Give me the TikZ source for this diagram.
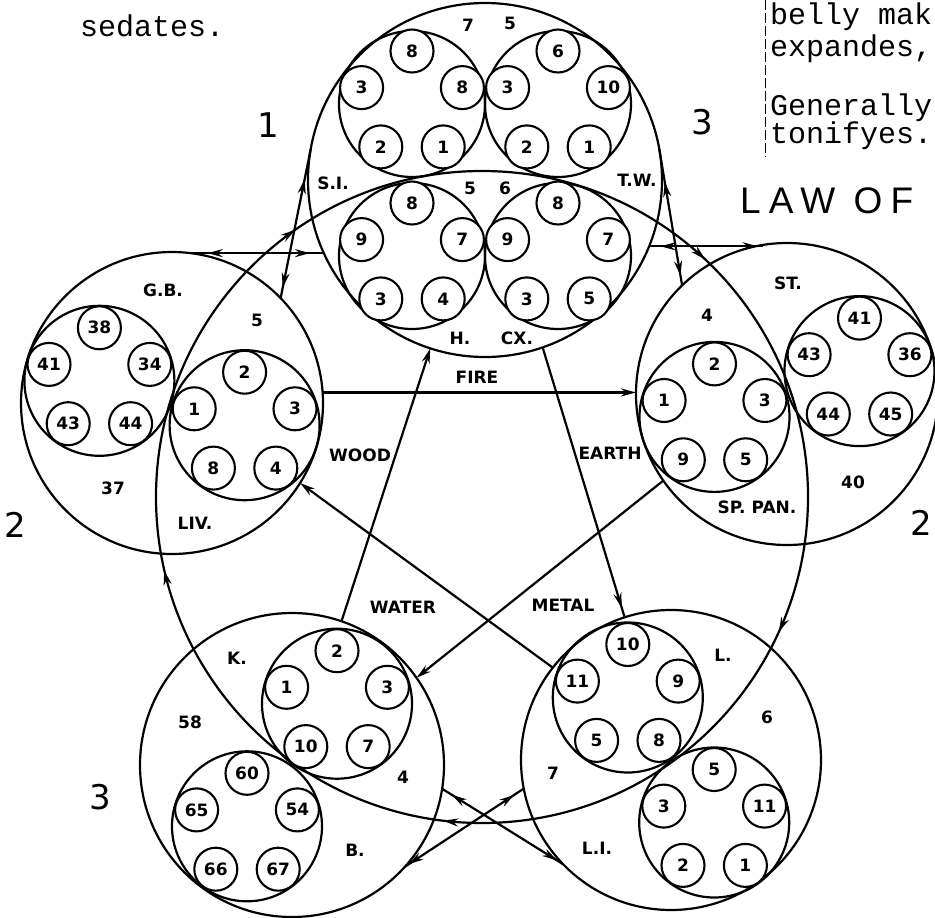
\documentclass[tikz,border=0pt]{standalone}
\usepackage{fontspec}
\setmainfont{DejaVu Sans}
\newfontfamily\typew{Liberation Mono}
\newfontfamily\lawf[LetterSpace=22]{Liberation Sans}
\usetikzlibrary{arrows.meta,decorations.markings,calc}
\tikzset{
  ln/.style={line width=2.2pt},
  bigc/.style={circle, draw, line width=2.2pt, inner sep=0pt, outer sep=0pt},
  org/.style={circle, draw, line width=2.2pt, inner sep=0pt, outer sep=0pt},
  sm/.style={circle, draw, fill=white, line width=2.1pt, inner sep=0pt, outer sep=0pt,
     minimum size=43pt, font=\bfseries\fontsize{17}{17}\selectfont},
  lab/.style={font=\bfseries\fontsize{17}{17}\selectfont, inner sep=1pt},
  numl/.style={font=\fontsize{34}{34}\selectfont, inner sep=0pt},
  twr/.style={font=\typew\fontsize{30}{30}\selectfont, anchor=base west, inner sep=0pt},
  tipend/.style={-{Stealth[length=15pt,width=8pt]}},
  fwd/.style={postaction={decorate,decoration={markings,
     mark=at position #1 with {\arrow{Stealth[length=15pt,width=8pt]}}}}},
  bwd/.style={postaction={decorate,decoration={markings,
     mark=at position #1 with {\arrowreversed{Stealth[length=15pt,width=8pt]}}}}},
  gcarrows/.style={postaction={decorate,decoration={markings,
     mark=at position 0.068 with {\arrow{Stealth[length=15pt,width=8pt]}},
     mark=at position 0.269 with {\arrow{Stealth[length=15pt,width=8pt]}},
     mark=at position 0.464 with {\arrow{Stealth[length=15pt,width=8pt]}},
     mark=at position 0.653 with {\arrow{Stealth[length=15pt,width=8pt]}},
     mark=at position 0.870 with {\arrow{Stealth[length=15pt,width=8pt]}}}}}
}
% five small circles in a pentagon: prefix, x, y, top, upper-left, upper-right, lower-left, lower-right
\newcommand{\pentad}[8]{%
  \node[sm] (#1t) at (#2,#3-53) {#4};
  \node[sm] (#1l) at (#2-50.4,#3-16.4) {#5};
  \node[sm] (#1r) at (#2+50.4,#3-16.4) {#6};
  \node[sm] (#1p) at (#2-31.2,#3+42.9) {#7};
  \node[sm] (#1q) at (#2+31.2,#3+42.9) {#8};
}
\begin{document}
\begin{tikzpicture}[x=1pt,y=-1pt]
\useasboundingbox (0,0) rectangle (935,918);
\clip (0,0) rectangle (935,918);

% element circles
\node[bigc, minimum size=354pt] (fire)  at (485,180) {};
\node[bigc, minimum size=302pt] (wood)  at (172,403) {};
\node[bigc, minimum size=302pt] (earth) at (787,394) {};
\node[bigc, minimum size=300pt] (metal) at (671,760) {};
\node[bigc, minimum size=304pt] (water) at (292,765) {};

% organ circles
\node[org, minimum size=146pt] (si) at (412,104) {};
\node[org, minimum size=146pt] (tw) at (558,104) {};
\node[org, minimum size=146pt] (ht) at (412,256) {};
\node[org, minimum size=146pt] (cx) at (558,256) {};
\node[org, minimum size=150pt] (gb)  at (99.4,380.8) {};
\node[org, minimum size=150pt] (liv) at (244.6,425.2) {};
\node[org, minimum size=150pt] (sp)  at (714.5,416.9) {};
\node[org, minimum size=150pt] (st)  at (859.5,371.1) {};
\node[org, minimum size=150pt] (lu)  at (627.8,697.5) {};
\node[org, minimum size=150pt] (li)  at (714.2,822.5) {};
\node[org, minimum size=150pt] (ki)  at (337,703.7) {};
\node[org, minimum size=150pt] (bl)  at (247,826.3) {};

% great circle through the elements
\coordinate (gc) at (482,497);
\draw[ln, gcarrows] (gc) circle[radius=326];

% connectors
\draw[ln, tipend] (wood.4) -- (wood.4 -| earth.west);
\draw[ln, tipend] (water.71) -- (fire.252);
\draw[ln, fwd=0.965] (fire.289) -- (metal.108);
\draw[ln, tipend] (earth.215) -- (water.35);
\draw[ln, tipend] (metal.142) -- (wood.328);
\draw[ln, bwd=0.2, fwd=0.93] (fire.170) -- (wood.44);
\draw[ln, bwd=0.24, fwd=0.93] (fire.10) -- (earth.134);
\draw[ln, bwd=0.13, fwd=0.9] (wood.83) -- (wood.83 -| fire.204);
\draw[ln, bwd=0.1, fwd=0.95] (fire.338) -- (fire.338 -| earth.99);
\draw[ln, bwd=0.08, fwd=0.95] (water.351) -- (metal.224);
\draw[ln, bwd=0.08, fwd=0.97] (metal.191) -- (water.318);

% points
\pentad{a}{412}{104}{8}{3}{8}{2}{1}
\pentad{b}{558}{104}{6}{3}{10}{2}{1}
\pentad{c}{412}{256}{8}{9}{7}{3}{4}
\pentad{d}{558}{256}{8}{9}{7}{3}{5}
\pentad{e}{99.4}{380.8}{38}{41}{34}{43}{44}
\pentad{f}{244.6}{425.2}{2}{1}{3}{8}{4}
\pentad{g}{714.5}{416.9}{2}{1}{3}{9}{5}
\pentad{h}{859.5}{371.1}{41}{43}{36}{44}{45}
\pentad{i}{627.8}{697.5}{10}{11}{9}{5}{8}
\pentad{j}{714.2}{822.5}{5}{3}{11}{2}{1}
\pentad{k}{337}{703.7}{2}{1}{3}{10}{7}
\pentad{m}{247}{826.3}{60}{65}{54}{66}{67}

% labels fire
\node[lab] (n1) at (468,25) {7};
\node[lab] (n2) at (510,23) {5};
\node[lab] (n3) at (470,188) {5};
\node[lab] (n4) at (505,188) {6};
\node[lab] (n5) at (333,183) {S.I.};
\node[lab] (n6) at (637,180) {T.W.};
\node[lab] (n7) at (460,338) {H.};
\node[lab] (n8) at (517,338) {CX.};
% wood
\node[lab] (n9) at (163,290) {G.B.};
\node[lab] (n10) at (257,320) {5};
\node[lab] (n11) at (113,488) {37};
\node[lab] (n12) at (195,523) {LIV.};
% earth
\node[lab] (n13) at (788,283) {ST.};
\node[lab] (n14) at (707,315) {4};
\node[lab] (n15) at (853,482) {40};
\node[lab] (n16) at (757,507) {SP. PAN.};
% metal
\node[lab] (n17) at (723,655) {L.};
\node[lab] (n18) at (767,717) {6};
\node[lab] (n19) at (553,773) {7};
\node[lab] (n20) at (597,848) {L.I.};
% water
\node[lab] (n21) at (237,658) {K.};
\node[lab] (n22) at (190,722) {58};
\node[lab] (n23) at (403,777) {4};
\node[lab] (n24) at (355,850) {B.};
% cycle words
\node[lab] (w1) at (477,377) {FIRE};
\node[lab] (w2) at (360,455) {WOOD};
\node[lab] (w3) at (610,453) {EARTH};
\node[lab] (w4) at (403,607) {WATER};
\node[lab] (w5) at (563,605) {METAL};
% big numerals
\node[numl] (b1) at (268,125) {1};
\node[numl] (b2) at (702,122) {3};
\node[numl] (b3) at (15,525) {2};
\node[numl] (b4) at (921,523) {2};
\node[numl] (b5) at (100,797) {3};

% texts
\node[twr] (t0) at (80,36) {sedates.};
\node[twr] (t1) at (770,24) {belly mak};
\node[twr] (t2) at (770,56) {expandes,};
\node[twr] (t3) at (770,115) {Generally};
\node[twr] (t4) at (770,143) {tonifyes.};
\coordinate (d1) at (765,0);
\coordinate (d2) at (765,157);
\draw[line width=1pt, dash pattern=on 10pt off 3pt] (d1) -- (d2);
\node[font=\lawf\fontsize{37}{37}\selectfont, anchor=base west, inner sep=0pt] (law) at (740,213) {LAW OF};
\end{tikzpicture}
\end{document}
